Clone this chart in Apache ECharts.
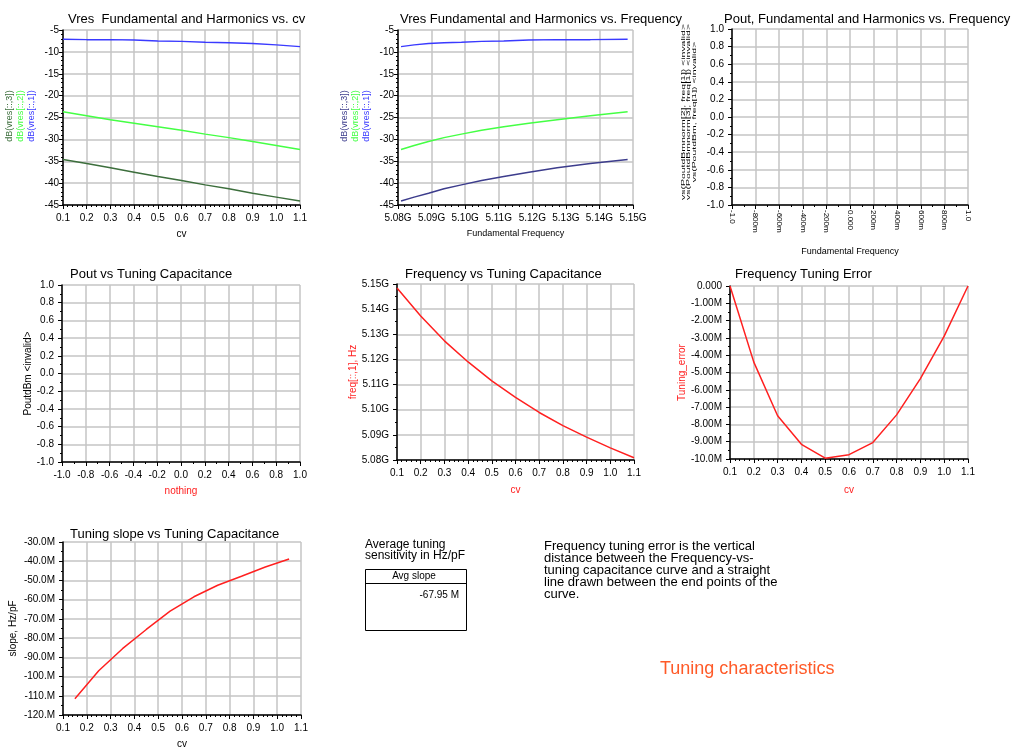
<!DOCTYPE html>
<html><head><meta charset="utf-8">
<script src="https://cdn.jsdelivr.net/npm/echarts@6/dist/echarts.min.js"></script>
<style>html,body{margin:0;padding:0;background:#fff}#c{width:1018px;height:750px}</style>
</head><body><div id="c"></div>
<script>
// ---- data ----
const cv = [0.1,0.2,0.3,0.4,0.5,0.6,0.7,0.8,0.9,1.0,1.1];
const vres1 = [-7.1,-7.2,-7.2,-7.3,-7.5,-7.6,-7.8,-7.9,-8.1,-8.4,-8.8];
const vres2 = [-23.7,-24.6,-25.5,-26.3,-27.1,-27.9,-28.8,-29.6,-30.5,-31.4,-32.3];
const vres3 = [-34.6,-35.5,-36.5,-37.5,-38.5,-39.4,-40.4,-41.3,-42.3,-43.2,-44.1];
const freqMHz = [5148.4,5137.3,5127.4,5119.0,5111.5,5104.9,5098.9,5093.7,5089.1,5084.8,5080.9];
const tuneErrMHz = [0,-4.4,-7.5,-9.15,-9.95,-9.75,-9.05,-7.45,-5.35,-2.9,0];
const slopeCv = [0.15,0.25,0.35,0.45,0.55,0.65,0.75,0.85,0.95,1.05];
const slopeMHzpF = [-111.5,-97,-85.5,-75.5,-66,-58.5,-52.5,-47.8,-43,-38.8];
const avgSlope = '-67.95 M';
const ticksPM1 = ['-1.0','-800m','-600m','-400m','-200m','0.000','200m','400m','600m','800m','1.0'];
const titles = [
  'Vres  Fundamental and Harmonics vs. cv',
  'Vres Fundamental and Harmonics vs. Frequency',
  'Pout, Fundamental and Harmonics vs. Frequency',
  'Pout vs Tuning Capacitance',
  'Frequency vs Tuning Capacitance',
  'Frequency Tuning Error',
  'Tuning slope vs Tuning Capacitance'
];
const vresNames = ['dB(vres[::,3])','dB(vres[::,2])','dB(vres[::,1])'];
const poutNames = ['vs(PoutdBmnorm[2], freq[1]) <invalid>','vs(PoutdBmnorm[3], freq[1]) <invalid>','vs(PoutdBm, freq[1]) <invalid>'];

// ---- layout ----
const FONT = 'Liberation Sans, Arial, sans-serif';
const grids = [
  {left:63, top:30, width:237, height:175},
  {left:398, top:30, width:235, height:175},
  {left:732, top:29, width:236, height:176},
  {left:62, top:285, width:238, height:177},
  {left:397, top:284, width:237, height:176},
  {left:730, top:286, width:238, height:173},
  {left:63, top:542, width:238, height:175}
];
const BLUE='#3a3aff', GREEN='#44ff44', DKGREEN='#3c6e3c', NAVY='#3c3c8c', RED='#ff2020';

function ax(gi, o, isX){
  const base = {
    type:'value', gridIndex:gi,
    axisLine:{show:true, onZero:false, lineStyle:{color:'#000', width:1.5}},
    axisTick:{show:true, inside:false, length:4, lineStyle:{color:'#000'}},
    minorTick:{show:true, splitNumber:o.minor||5, length:2, lineStyle:{color:'#000'}},
    splitLine:{show:true, lineStyle:{color:'#c4c4c4', width:1.5}},
    axisLabel:{color:'#000', fontSize:10, fontFamily:FONT, margin:isX?6:4},
    nameTextStyle:{color:o.nameColor||'#000', fontSize:o.nameSize||10, fontFamily:FONT},
    nameLocation:'middle'
  };
  return Object.assign(base, o.extra||{});
}
const f1 = v => v.toFixed(1);
const xAxes = [
  ax(0,{minor:5,extra:{min:0.1,max:1.1,interval:0.1,name:'cv',nameGap:24,axisLabel:{color:'#000',fontSize:10,fontFamily:FONT,formatter:f1}}},true),
  ax(1,{minor:5,extra:{min:5080,max:5150,interval:10,name:'Fundamental Frequency',nameGap:24,nameTextStyle:{color:'#000',fontSize:9,fontFamily:FONT},axisLabel:{color:'#000',fontSize:10,fontFamily:FONT,formatter:v=>(v/1000).toFixed(2)+'G'}}},true),
  ax(2,{minor:2,extra:{min:-1,max:1,interval:0.2,name:'Fundamental Frequency',nameGap:42,nameTextStyle:{color:'#000',fontSize:9,fontFamily:FONT},axisLabel:{color:'#000',fontSize:8,fontFamily:FONT,rotate:-90,margin:5,formatter:(v)=>ticksPM1[Math.round((v+1)*5)]}}},true),
  ax(3,{minor:2,extra:{min:-1,max:1,interval:0.2,name:'nothing',nameGap:24,nameTextStyle:{color:RED,fontSize:10,fontFamily:FONT},axisLabel:{color:'#000',fontSize:10,fontFamily:FONT,formatter:f1}}},true),
  ax(4,{minor:5,extra:{min:0.1,max:1.1,interval:0.1,name:'cv',nameGap:25,nameTextStyle:{color:RED,fontSize:10,fontFamily:FONT},axisLabel:{color:'#000',fontSize:10,fontFamily:FONT,formatter:f1}}},true),
  ax(5,{minor:5,extra:{min:0.1,max:1.1,interval:0.1,name:'cv',nameGap:26,nameTextStyle:{color:RED,fontSize:10,fontFamily:FONT},axisLabel:{color:'#000',fontSize:10,fontFamily:FONT,formatter:f1}}},true),
  ax(6,{minor:5,extra:{min:0.1,max:1.1,interval:0.1,name:'cv',nameGap:24,axisLabel:{color:'#000',fontSize:10,fontFamily:FONT,formatter:f1}}},true)
];
const slopeFmt = v => { let s=v.toPrecision(3); if(s.indexOf('.')<0) s+='.'; return s+'M'; };
const yAxes = [
  ax(0,{minor:5,extra:{min:-45,max:-5,interval:5}}),
  ax(1,{minor:5,extra:{min:-45,max:-5,interval:5}}),
  ax(2,{minor:2,extra:{min:-1,max:1,interval:0.2,axisLabel:{color:'#000',fontSize:10,fontFamily:FONT,formatter:f1}}}),
  ax(3,{minor:2,extra:{min:-1,max:1,interval:0.2,name:'PoutdBm <invalid>',nameGap:28,nameTextStyle:{color:'#000',fontSize:10,fontFamily:FONT},axisLabel:{color:'#000',fontSize:10,fontFamily:FONT,formatter:f1}}}),
  ax(4,{minor:2,extra:{min:5080,max:5150,interval:10,name:'freq[::,1], Hz',nameGap:37,nameTextStyle:{color:RED,fontSize:10,fontFamily:FONT},axisLabel:{color:'#000',fontSize:10,fontFamily:FONT,formatter:v=>(v/1000).toFixed(2)+'G'}}}),
  ax(5,{minor:2,extra:{min:-10,max:0,interval:1,name:'Tuning_error',nameGap:43,nameTextStyle:{color:RED,fontSize:10,fontFamily:FONT},axisLabel:{color:'#000',fontSize:10,fontFamily:FONT,formatter:v=>v===0?'0.000':v.toPrecision(3)+'M'}}}),
  ax(6,{minor:2,extra:{min:-120,max:-30,interval:10,name:'slope, Hz/pF',nameGap:45,nameTextStyle:{color:'#000',fontSize:10,fontFamily:FONT},axisLabel:{color:'#000',fontSize:10,fontFamily:FONT,formatter:slopeFmt}}})
];

function ln(xi, xs, ys, color){
  return {type:'line', xAxisIndex:xi, yAxisIndex:xi, data:xs.map((x,i)=>[x,ys[i]]),
    showSymbol:false, symbol:'none', animation:false, lineStyle:{color:color,width:1.5}, itemStyle:{color:color}};
}
const series = [
  ln(0,cv,vres1,BLUE), ln(0,cv,vres2,GREEN), ln(0,cv,vres3,DKGREEN),
  ln(1,freqMHz,vres1,BLUE), ln(1,freqMHz,vres2,GREEN), ln(1,freqMHz,vres3,NAVY),
  {type:'line',xAxisIndex:2,yAxisIndex:2,data:[]},
  {type:'line',xAxisIndex:3,yAxisIndex:3,data:[]},
  ln(4,cv,freqMHz,RED),
  ln(5,cv,tuneErrMHz,RED),
  ln(6,slopeCv,slopeMHzpF,RED)
];

const titleOpts = [
  {text:titles[0], left:63, top:8},
  {text:titles[1], left:395, top:8},
  {text:titles[2], left:719, top:8},
  {text:titles[3], left:65, top:263},
  {text:titles[4], left:400, top:263},
  {text:titles[5], left:730, top:263},
  {text:titles[6], left:65, top:523}
].map(t=>Object.assign(t,{textStyle:{fontSize:13,fontWeight:'normal',color:'#000',fontFamily:FONT}}));

const g = [];
function vtext(x, y, text, color, size, sx){
  g.push({type:'text', x:x, y:y, rotation:Math.PI/2, scaleX:sx||1,
    style:{text:text, fill:color, font:size+'px '+FONT, textAlign:'center', textVerticalAlign:'middle'}});
}
[DKGREEN,GREEN,BLUE].forEach((c,i)=>vtext(10+i*11,116,vresNames[i],c,9));
[NAVY,GREEN,BLUE].forEach((c,i)=>vtext(345+i*11,116,vresNames[i],c,9));
poutNames.forEach((t,i)=>vtext(683+i*5.5,112,t,'#000',5.5,1.9));
// text block
g.push({type:'text', left:365, top:539, style:{text:'Average tuning\nsensitivity in Hz/pF', fill:'#000', font:'12px '+FONT, lineHeight:11}});
g.push({type:'rect', shape:{x:365.5,y:569.5,width:101,height:61}, style:{fill:'none', stroke:'#000', lineWidth:1}});
g.push({type:'line', shape:{x1:365.5,y1:583.5,x2:466.5,y2:583.5}, style:{stroke:'#000', lineWidth:1}});
g.push({type:'text', x:414, y:576, style:{text:'Avg slope', fill:'#000', font:'10px '+FONT, textAlign:'center', textVerticalAlign:'middle'}});
g.push({type:'text', x:459, y:595, style:{text:avgSlope, fill:'#000', font:'10px '+FONT, textAlign:'right', textVerticalAlign:'middle'}});
g.push({type:'text', left:544, top:540, style:{text:'Frequency tuning error is the vertical\ndistance between the Frequency-vs-\ntuning capacitance curve and a straight\nline drawn between the end points of the\ncurve.', fill:'#000', font:'13px '+FONT, lineHeight:12}});
g.push({type:'text', left:660, top:660, style:{text:'Tuning characteristics', fill:'#ff5a28', font:'18px '+FONT}});

const chart = echarts.init(document.getElementById('c'), null, {renderer:'canvas'});
chart.setOption({
  animation:false, backgroundColor:'#fff',
  title:titleOpts, grid:grids, xAxis:xAxes, yAxis:yAxes, series:series, graphic:g
});
</script></body></html>
